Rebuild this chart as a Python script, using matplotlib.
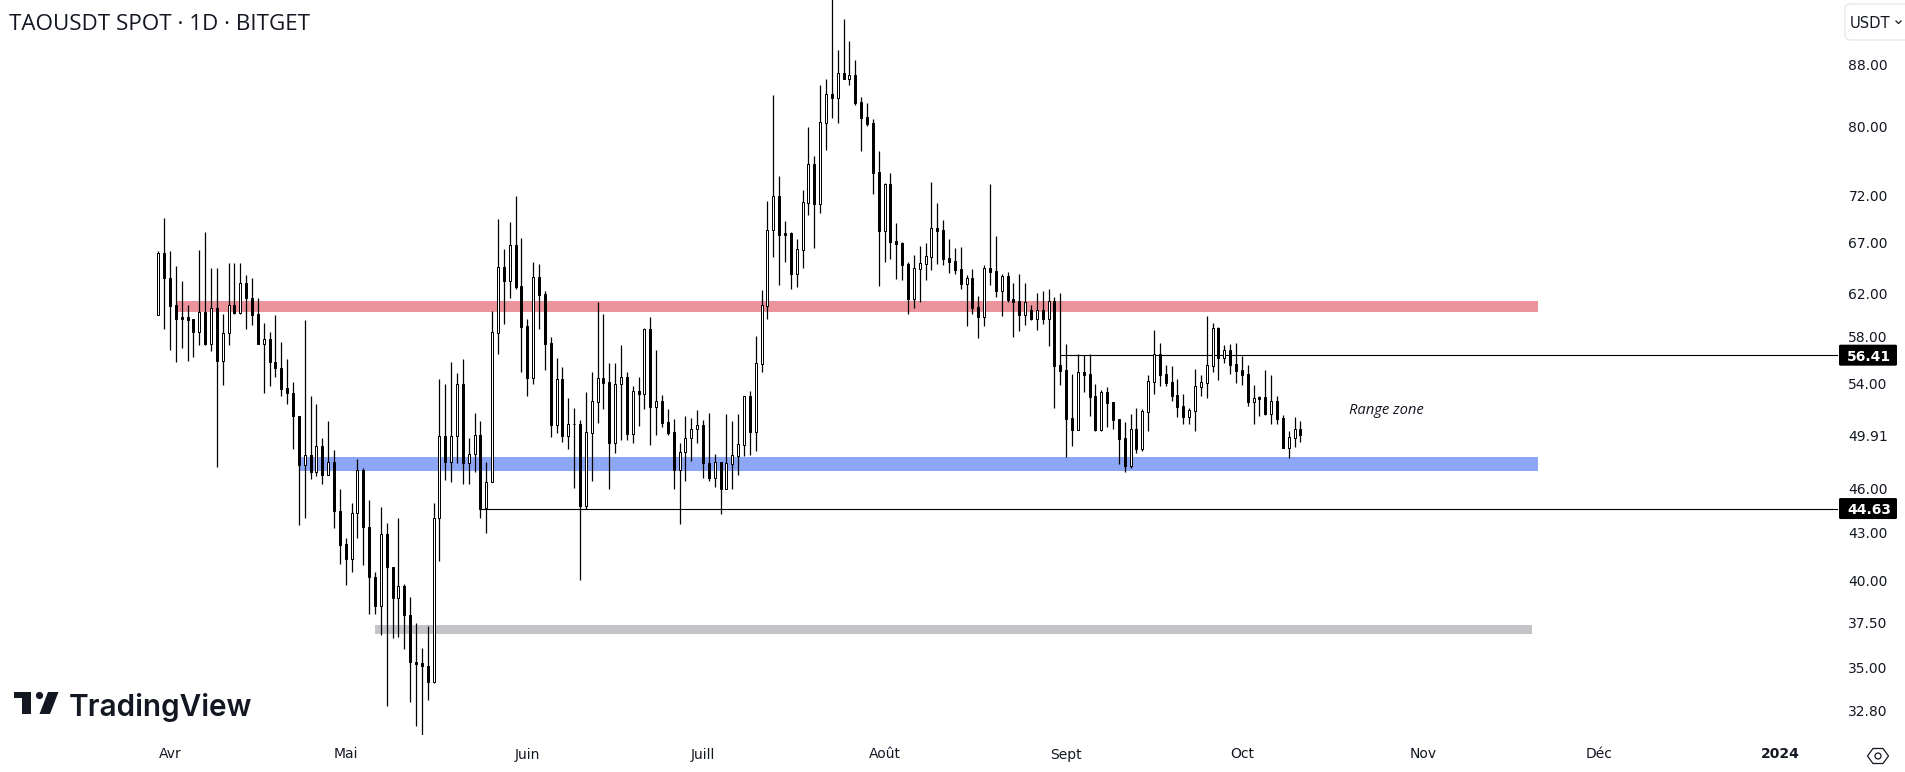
import matplotlib
matplotlib.use("Agg")
import matplotlib.pyplot as plt
import matplotlib.dates as mdates
from matplotlib.patches import Polygon, Circle, FancyBboxPatch
from matplotlib.ticker import FixedLocator, FixedFormatter, NullLocator
from matplotlib.transforms import IdentityTransform
import numpy as np
import pandas as pd

W, H = 1906, 772

opens = [60.00,65.91,63.51,60.86,59.77,59.77,59.58,58.45,60.30,57.41,
60.59,55.92,58.39,60.86,60.17,63.02,61.59,60.04,57.41,57.79,
55.86,55.35,53.62,53.27,51.44,47.71,48.45,47.22,49.11,46.99,
47.95,44.49,42.25,41.33,44.35,47.30,43.41,40.22,38.46,42.90,
40.84,38.95,39.68,37.96,35.32,35.23,35.11,34.24,44.01,49.87,
47.92,49.87,53.94,47.83,48.50,49.97,44.65,46.49,58.34,64.50,
63.20,66.71,62.65,58.94,54.49,63.52,61.89,57.43,50.72,54.36,
49.87,50.82,50.82,44.81,50.10,52.53,54.44,54.11,49.34,53.94,
54.52,50.00,53.40,53.18,58.67,52.11,52.56,50.90,50.13,47.35,
48.67,49.67,50.41,50.67,47.88,46.77,47.95,45.99,47.78,48.37,
49.17,52.96,50.18,55.67,60.83,68.25,71.89,67.97,67.97,63.88,
66.26,71.20,75.49,71.09,80.46,84.01,83.59,86.75,86.05,86.49,
82.99,81.11,80.37,74.58,68.22,73.26,67.11,66.94,64.80,61.49,
64.37,64.86,65.56,68.46,68.29,65.39,65.13,64.30,62.88,63.43,
60.68,59.82,64.40,64.14,62.21,63.62,61.42,61.24,60.00,60.40,
59.60,60.40,59.60,61.27,55.56,55.14,51.24,50.33,54.97,54.80,
52.99,50.31,53.31,52.51,51.16,49.70,47.61,50.38,48.87,51.71,
54.13,56.50,54.80,54.13,53.07,52.19,51.32,51.81,53.72,54.05,
55.47,58.79,56.16,56.85,55.64,55.14,54.80,52.51,52.91,52.91,
51.55,52.59,51.24,48.94,49.70,50.38]

highs = [66.09,69.53,66.09,64.62,63.16,60.86,59.64,66.23,68.06,64.41,
64.48,60.04,64.98,64.98,64.98,63.71,63.44,61.53,59.29,58.48,
59.94,57.60,56.05,54.18,51.44,59.48,53.04,52.32,49.68,51.05,
48.77,45.95,42.64,45.03,48.11,47.45,45.25,40.53,44.76,43.63,
40.84,43.96,39.79,39.01,37.49,36.08,37.32,44.98,54.36,53.95,
55.86,54.87,56.04,49.67,51.68,50.98,47.95,60.34,69.41,66.30,
69.13,71.93,67.42,59.66,64.99,64.83,62.18,57.96,56.16,55.36,
52.80,52.00,51.08,53.29,54.97,61.17,60.03,55.73,55.73,57.28,
54.97,53.80,54.55,58.76,59.79,56.82,53.07,51.95,51.16,49.32,
51.37,51.24,51.87,51.08,51.68,48.47,47.95,51.60,50.98,51.55,
52.93,53.40,58.08,62.27,71.34,83.89,74.12,69.23,68.04,67.35,
72.59,79.92,76.46,85.22,86.01,98.53,89.90,94.26,91.15,88.54,
83.63,82.91,80.87,77.05,73.37,74.50,69.02,67.01,65.03,65.73,
66.64,66.94,73.48,71.16,69.34,67.35,66.43,66.54,63.75,64.34,
61.74,64.73,73.26,67.66,63.85,64.04,62.97,63.85,62.97,60.89,
62.02,62.21,62.40,61.64,62.02,57.37,54.80,56.50,56.39,56.50,
53.97,53.48,53.72,52.51,51.16,50.93,51.60,52.00,51.95,54.72,
58.61,57.46,55.56,55.47,54.38,53.15,52.03,55.22,54.72,59.88,
59.24,58.88,57.28,57.37,57.46,56.33,55.56,53.89,52.99,55.14,
54.72,52.99,51.47,50.23,51.32,51.00]

lows = [59.97,58.74,56.88,55.83,57.06,55.92,56.23,57.28,57.28,56.78,
47.56,53.92,57.31,60.10,60.10,58.71,59.09,57.38,53.24,53.83,
54.57,53.01,52.38,48.90,43.53,44.01,46.71,46.91,46.35,46.99,
43.34,41.00,39.70,40.49,42.66,40.95,37.98,37.98,36.80,33.01,
36.64,36.68,36.02,33.21,32.02,31.58,33.32,34.20,41.20,46.63,
46.45,47.87,46.32,46.32,47.16,43.98,42.98,46.49,56.53,59.15,
61.55,62.43,54.97,52.99,53.97,58.70,55.14,49.77,50.08,49.39,
48.87,46.04,40.00,44.63,46.54,50.85,51.95,45.97,48.57,49.52,
49.52,49.32,50.61,51.95,49.17,49.92,50.54,49.92,45.97,43.60,
46.54,47.98,49.32,46.75,46.54,46.11,44.27,45.97,45.97,46.96,
48.35,48.42,48.72,54.97,59.60,65.53,62.78,65.03,62.40,62.59,
64.43,69.87,66.43,70.08,77.16,81.03,80.41,86.01,85.22,82.66,
77.05,80.05,72.15,62.69,65.03,65.33,63.36,63.26,60.06,60.61,
61.17,63.26,64.24,64.83,64.73,63.94,63.85,62.40,58.97,60.06,
57.90,58.97,62.78,61.64,59.88,61.17,57.99,58.52,59.06,59.51,
58.61,59.15,57.20,52.03,53.89,48.27,49.09,50.31,53.31,51.39,
50.23,50.23,50.54,50.38,47.76,47.18,47.47,48.57,48.72,50.23,
53.15,53.80,53.80,52.59,51.32,50.77,50.77,50.23,52.99,52.83,
54.97,54.30,55.73,54.80,54.05,53.89,52.19,50.77,51.39,51.47,
50.77,50.77,48.94,48.20,49.02,49.39]

closes = [65.91,63.51,60.83,59.64,59.64,59.55,58.45,60.30,57.38,60.59,
55.92,58.39,60.86,60.17,63.02,61.59,60.00,57.41,57.79,55.83,
55.35,53.59,53.27,51.42,47.71,48.45,47.22,49.11,46.99,47.92,
44.47,42.22,41.33,44.35,47.30,43.39,40.20,38.46,42.90,40.82,
38.95,39.66,37.94,35.30,35.21,35.09,34.24,44.01,49.87,47.92,
49.87,53.95,47.83,48.54,49.97,44.63,46.51,58.40,64.50,63.20,
66.71,62.59,58.91,54.49,63.52,61.83,57.40,50.72,54.36,49.87,
50.82,50.80,44.81,50.13,52.56,54.44,54.08,49.34,53.94,54.52,
50.00,53.37,53.18,58.67,52.11,52.56,50.85,50.08,47.35,48.69,
49.67,50.43,50.67,47.83,46.75,47.95,45.99,47.81,48.40,49.22,
52.96,50.15,55.70,60.86,68.25,71.89,67.80,67.80,63.85,66.30,
71.23,75.49,71.05,80.50,84.01,83.59,86.75,86.01,86.49,82.91,
81.07,80.29,74.50,68.22,73.26,67.05,66.88,64.73,61.45,64.40,
64.90,65.59,68.46,68.18,65.33,65.03,64.24,62.88,63.43,60.61,
59.79,64.40,64.04,62.21,63.62,61.36,61.20,59.97,61.14,59.60,
60.40,59.60,61.24,55.47,55.05,51.16,50.31,54.94,54.72,52.91,
50.31,53.31,52.43,51.08,49.62,47.61,50.38,48.87,51.79,54.22,
56.50,54.72,54.05,52.99,52.11,51.32,51.87,53.80,54.13,55.56,
58.79,56.16,56.85,55.56,55.05,54.72,52.51,52.83,52.77,51.55,
52.59,51.16,48.94,49.77,50.38,49.92]

dates = pd.date_range("2023-03-30", periods=len(opens), freq="D")

zone_names = ["resistance", "support", "low"]
zone_lows = [60.30, 47.26, 36.84]
zone_highs = [61.26, 48.27, 37.34]
zone_start = ["2023-04-02", "2023-04-23", "2023-05-06"]
zone_end = ["2023-11-20 12:00", "2023-11-20 12:00", "2023-11-19 12:00"]
zone_colors = ["#EB949C", "#8DA6F5", "#C3C3C8"]

level_values = [56.41, 44.63]
level_labels = ["56.41", "44.63"]
level_start = ["2023-08-31", "2023-05-24"]

price_ticks = [88, 80, 72, 67, 62, 58, 54, 49.91, 46, 43, 40, 37.5, 35, 32.8]
price_labels = ["88.00", "80.00", "72.00", "67.00", "62.00", "58.00", "54.00",
                "49.91", "46.00", "43.00", "40.00", "37.50", "35.00", "32.80"]

month_ticks = ["2023-04-01", "2023-05-01", "2023-06-01", "2023-07-01", "2023-08-01",
               "2023-09-01", "2023-10-01", "2023-11-01", "2023-12-01", "2024-01-01"]
month_labels = ["Avr", "Mai", "Juin", "Juill", "Août", "Sept", "Oct", "Nov", "Déc", "2024"]

fig = plt.figure(figsize=(W / 100, H / 100), dpi=100)
fig.patch.set_facecolor("white")
PLOT_R, PLOT_B = 1838, 735
ax = fig.add_axes([0, 1 - PLOT_B / H, PLOT_R / W, PLOT_B / H])
for s in ax.spines.values():
    s.set_visible(False)

num = mdates.date2num(dates)
DAY_PX = 5.857
X0_PX = 158.3
ax.set_xlim(num[0] - X0_PX / DAY_PX, num[0] + (PLOT_R - X0_PX) / DAY_PX)
ax.set_yscale("log")
ax.set_ylim(31.58, 97.04)

ax.xaxis.set_major_locator(FixedLocator(mdates.date2num(pd.to_datetime(month_ticks))))
ax.xaxis.set_major_formatter(FixedFormatter(month_labels))
ax.xaxis.set_minor_locator(NullLocator())
ax.yaxis.tick_right()
ax.yaxis.set_major_locator(FixedLocator(price_ticks))
ax.yaxis.set_major_formatter(FixedFormatter(price_labels))
ax.yaxis.set_minor_locator(NullLocator())
ax.yaxis.set_minor_formatter(FixedFormatter([]))
ax.tick_params(axis="x", length=0, pad=9, labelsize=10, labelcolor="#131722")
ax.tick_params(axis="y", length=0, pad=7.5, labelsize=10, labelcolor="#131722")
ax.get_xticklabels()[-1].set_fontweight("bold")

for lo, hi, a, b, col in zip(zone_lows, zone_highs, zone_start, zone_end, zone_colors):
    xs = mdates.date2num(pd.to_datetime([a, b], format="mixed"))
    ax.fill_between(xs, [lo, lo], [hi, hi], color=col, lw=0, zorder=1)

for v, a in zip(level_values, level_start):
    ax.hlines(v, mdates.date2num(pd.Timestamp(a)), ax.get_xlim()[1], color="black", lw=0.8, zorder=2)

o = np.array(opens)
c = np.array(closes)
ax.vlines(num, lows, highs, color="black", lw=0.9, zorder=3)
up = c >= o
BW = 1.9 / DAY_PX
ax.bar(num[up], (c - o)[up], bottom=o[up], width=BW, facecolor="white",
       edgecolor="black", linewidth=0.72, zorder=4)
ax.bar(num[~up], (o - c)[~up], bottom=c[~up], width=BW, facecolor="black",
       edgecolor="black", linewidth=0.72, zorder=4)

ax.text(mdates.date2num(pd.Timestamp("2023-10-19")) + 0.3, 51.8, "Range zone", style="italic",
        family="Open Sans", fontsize=10.6, color="#131722", va="center", ha="left", zorder=5)

fig.canvas.draw()
px = IdentityTransform()
def Y(y):
    return H - y

for v, lab in zip(level_values, level_labels):
    yp = ax.transData.transform((num[0], v))[1]
    fig.add_artist(FancyBboxPatch((PLOT_R + 1, yp - 10.5), 58, 21,
                                  boxstyle="round,pad=0,rounding_size=1.5", fc="black", ec="none",
                                  transform=px, zorder=6))
    fig.text((PLOT_R + 31) / W, yp / H, lab, color="white", fontsize=10, fontweight="bold",
             ha="center", va="center_baseline", zorder=7)

fig.text(9 / W, Y(22) / H, "TAOUSDT SPOT · 1D · BITGET", family="Open Sans", fontsize=16.1,
         color="#131722", va="center_baseline", ha="left")

fig.add_artist(FancyBboxPatch((1845, Y(40)), 70, 36, boxstyle="round,pad=0,rounding_size=5",
                              fc="white", ec="#E0E3EB", lw=0.8, transform=px, zorder=5))
fig.text(1850 / W, Y(22) / H, "USDT", fontsize=10.6, color="#131722", ha="left",
         va="center_baseline", zorder=6)
fig.add_artist(plt.Line2D([1896, 1898.5, 1901], [Y(21), Y(23.5), Y(21)], color="#131722", lw=0.9,
                          transform=px, zorder=6))

hexx = [1867.5, 1873, 1883, 1888.5, 1883, 1873]
hexy = [756, 748.5, 748.5, 756, 763.5, 763.5]
fig.add_artist(Polygon(np.column_stack([hexx, [Y(v) for v in hexy]]), closed=True, fc="white",
                       ec="#131722", lw=0.9, transform=px))
fig.add_artist(Circle((1878, Y(756)), 3, fc="white", ec="#131722", lw=0.9, transform=px))

logo = "#131722"
fig.add_artist(Polygon([(14, Y(692)), (31, Y(692)), (31, Y(714)), (22, Y(714)), (22, Y(698)), (14, Y(698))],
                       closed=True, fc=logo, ec="none", transform=px, zorder=6))
fig.add_artist(Circle((39.5, Y(695.5)), 3.6, fc=logo, ec="none", transform=px, zorder=6))
fig.add_artist(Polygon([(48, Y(692)), (58.5, Y(692)), (50, Y(714)), (39.5, Y(714))],
                       closed=True, fc=logo, ec="none", transform=px, zorder=6))
fig.text(69 / W, Y(704) / H, "TradingView", family="Inter", fontsize=21.4, fontweight="semibold",
         color=logo, va="center_baseline", ha="left", zorder=6)

fig.savefig("out.png", dpi=100)
